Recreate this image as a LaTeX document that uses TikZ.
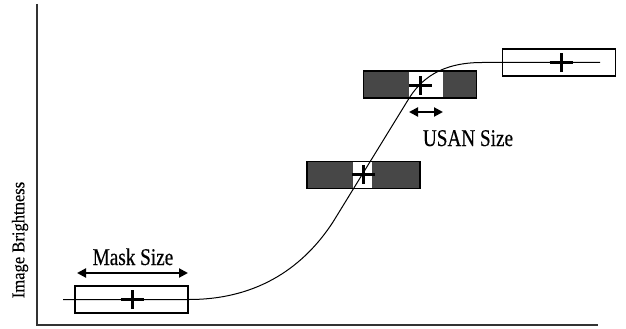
\documentclass[tikz,border=0pt]{standalone}
\usepackage{fontspec}
\setmainfont{Liberation Serif}
\newfontfamily\labfont[FakeStretch=0.80,FakeBold=0.4]{Liberation Serif}
\newfontfamily\axisfont[FakeStretch=0.92,FakeBold=0.3]{Liberation Serif}
\usetikzlibrary{arrows.meta}
\tikzset{
  axisline/.style={draw=black!80, line width=1.5pt},
  maskbox/.style={draw=black, line width=1.1pt, minimum width=113pt, minimum height=27pt, inner sep=0pt, outer sep=0pt},
  darkbox/.style={maskbox, fill=black!72},
  usanbox/.style={fill=white, draw=none, minimum height=26pt, inner sep=0pt, outer sep=0pt},
  response/.style={draw=black, line width=1pt},
  sizearrow/.style={line width=2pt, {Triangle[length=9pt,width=9pt]}-{Triangle[length=9pt,width=9pt]}},
  sizelabel/.style={font=\labfont\fontsize{24pt}{26pt}\selectfont, inner sep=0pt, anchor=base},
  pics/nucleus/.style={code={
    \draw[line width=3pt] (-11.5pt,0) -- (11.5pt,0);
    \draw[line width=3pt] (0,-9.5pt) -- (0,9.5pt);
  }}
}
\begin{document}
\begin{tikzpicture}[x=1pt, y=-1pt]
\useasboundingbox (0,0) rectangle (626,329);

% axes
\coordinate (ytop) at (37,4);
\coordinate (orig) at (37,325);
\coordinate (xend) at (598,325);
\draw[axisline] (ytop) -- (orig) -- (xend);
\node[rotate=90, font=\axisfont\fontsize{18pt}{20pt}\selectfont, inner sep=0pt] (ylab) at (20,240) {Image Brightness};

% circular masks placed along the edge
\node[maskbox] (m1) at (131.5,299.5) {};
\node[darkbox] (m2) at (363.5,175) {};
\node[usanbox, minimum width=19pt] (u2) at (362.5,175) {};
\node[darkbox] (m3) at (420,84.5) {};
\node[usanbox, minimum width=34pt] (u3) at (426,84.5) {};
\draw[line width=1.1pt] (m2.north west) rectangle (m2.south east);
\draw[line width=1.1pt] (m3.north west) rectangle (m3.south east);
\node[maskbox] (m4) at (559,62.5) {};

% brightness profile across the edge
\coordinate (c0) at (63,299.5);
\coordinate (c1) at (189,299.5);
\coordinate (c2) at (333,222);
\coordinate (c3) at (408,100);
\coordinate (c4) at (482,62.5);
\coordinate (c5) at (600,62.5);
\draw[response] (c0) -- (c1) .. controls (260,299.5) and (305,265) .. (c2)
  -- (c3) .. controls (420,80) and (440,62.5) .. (c4) -- (c5);

% mask nuclei
\pic at (132,299.5) {nucleus};
\pic at (363,174) {nucleus};
\pic at (420,85) {nucleus};
\pic at (561,62.5) {nucleus};

% size annotations
\coordinate (ma) at (77,273);
\coordinate (mb) at (188,273);
\draw[sizearrow] (ma) -- (mb);
\node[sizelabel] (mlab) at (133,265) {Mask Size};

\coordinate (ua) at (409,112);
\coordinate (ub) at (443,112);
\draw[sizearrow] (ua) -- (ub);
\node[sizelabel] (ulab) at (468,146) {USAN Size};
\end{tikzpicture}
\end{document}
